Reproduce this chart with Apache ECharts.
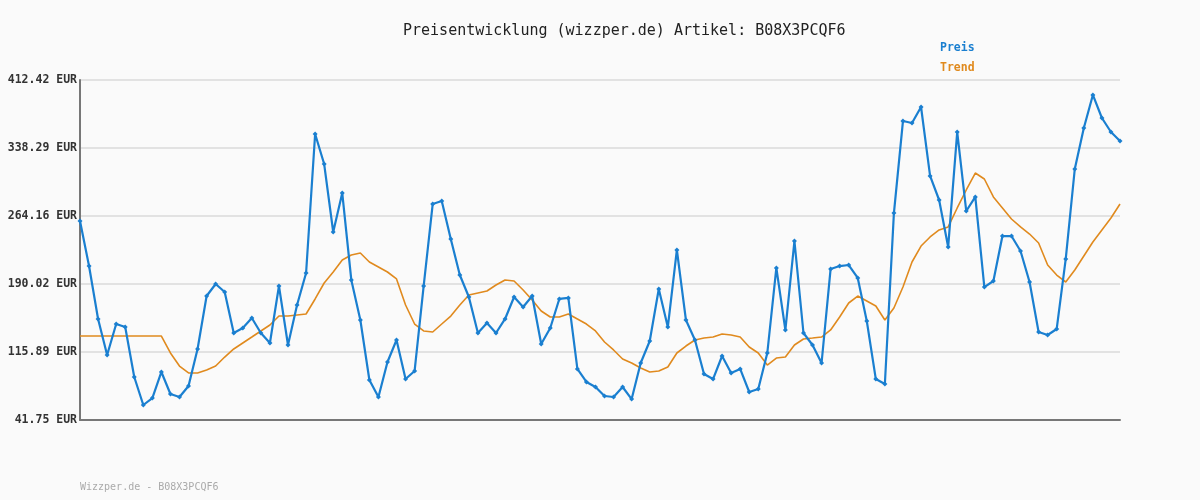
<!DOCTYPE html>
<html><head><meta charset="utf-8">
<script src="https://cdn.jsdelivr.net/npm/echarts@6/dist/echarts.min.js"></script>
<style>html,body{margin:0;background:#fafafa}#c{width:1200px;height:500px}</style>
</head><body><div id="c"></div>
<script>
const preis = [258.7,209.6,151.9,112.6,146.4,143.1,88.6,58.1,65.7,94.1,
70.1,66.8,78.8,119.2,176.9,190.0,181.3,136.6,142.0,152.9,
136.6,125.7,187.8,123.5,167.1,202.0,353.5,320.8,246.7,289.2,
194.4,150.8,85.4,66.8,105.0,129.0,86.4,95.2,187.8,277.2,
280.5,239.1,199.8,175.8,136.6,147.5,136.6,151.9,175.8,164.9,
176.9,124.6,142.0,173.7,174.8,97.4,83.2,77.7,67.9,66.8,
77.7,64.6,103.9,127.9,184.6,143.1,227.1,150.8,129.0,91.9,
86.4,111.5,93.0,97.4,72.3,75.5,114.8,207.5,139.9,236.9,
136.6,123.5,103.9,206.4,209.6,210.7,196.6,149.7,86.4,81.0,
267.4,367.7,365.5,383.0,307.8,281.6,230.4,355.7,269.6,284.9,
186.7,193.3,242.3,242.3,226.0,192.2,137.7,134.4,141.0,217.3,
315.4,360.1,396.1,371.0,355.7,345.9];
const trend = [133.3,133.3,133.3,133.3,133.3,133.3,133.3,133.3,133.3,133.3,
114.8,100.6,93.0,93.0,96.3,100.6,110.4,119.2,125.7,132.2,
138.8,145.3,155.1,155.1,156.2,157.3,173.7,191.1,203.1,216.2,
221.6,223.8,214.0,208.6,203.1,195.5,167.1,146.4,138.8,137.7,
146.4,155.1,167.1,178.0,180.2,182.4,188.9,194.4,193.3,183.5,
172.6,160.6,154.0,154.0,157.3,151.9,146.4,138.8,126.8,118.1,
108.3,103.9,98.4,94.1,95.2,99.5,114.8,122.4,129.0,131.1,
132.2,135.5,134.4,132.2,121.3,114.8,101.7,109.3,110.4,123.5,
130.1,131.1,132.2,139.9,154.0,169.3,176.9,171.5,166.0,150.8,
163.9,186.7,214.0,231.4,241.3,248.9,252.2,272.9,292.5,311.0,
304.5,284.9,272.9,260.9,252.2,244.5,234.7,210.7,199.8,192.2,
205.3,220.5,235.8,248.9,262.0,277.2];
const yTicks = ['41.75','115.89','190.02','264.16','338.29','412.42'];
const cats = preis.map((_, i) => String(i + 1));
const mono = '"DejaVu Sans Mono", "Liberation Mono", monospace';
const chart = echarts.init(document.getElementById('c'));
chart.setOption({
  backgroundColor: '#fafafa',
  animation: false,
  title: { text: 'Preisentwicklung (wizzper.de) Artikel: B08X3PCQF6', left: 398, top: 19,
    textStyle: { fontFamily: mono, fontSize: 15, fontWeight: 'normal', color: '#222' } },
  legend: { orient: 'vertical', left: 935, top: 37, itemGap: 8, itemWidth: 0, itemHeight: 0, icon: 'none',
    data: [{ name: 'Preis', textStyle: { color: '#1a7fd0' } }, { name: 'Trend', textStyle: { color: '#e08a1e' } }],
    textStyle: { fontFamily: mono, fontSize: 11.5, fontWeight: 'bold', padding: [0,0,0,-5] } },
  graphic: [{ type: 'text', left: 80, top: 482, style: { text: 'Wizzper.de - B08X3PCQF6', fill: '#aaa', font: '10px ' + mono } }],
  grid: { left: 80, right: 80, top: 80, bottom: 80 },
  xAxis: { type: 'category', data: cats, boundaryGap: false,
    axisLine: { lineStyle: { color: '#777', width: 2 } }, axisTick: { show: false }, axisLabel: { show: false } },
  yAxis: { type: 'value', min: 41.75, max: 412.42, interval: 74.134,
    axisLine: { show: true, lineStyle: { color: '#777', width: 2 } }, axisTick: { show: false },
    splitLine: { lineStyle: { color: '#e2e2e2', width: 2 } },
    axisLabel: { fontFamily: mono, fontSize: 11.5, fontWeight: 'bold', color: '#333', margin: 3,
      formatter: v => { let b = yTicks[0]; let d = 1e9; for (const t of yTicks) { const dd = Math.abs(+t - v); if (dd < d) { d = dd; b = t; } } return b + ' EUR'; } } },
  series: [
    { name: 'Trend', type: 'line', data: trend, symbol: 'none', lineStyle: { color: '#e08a1e', width: 1.6 }, itemStyle: { color: '#e08a1e' } },
    { name: 'Preis', type: 'line', data: preis, symbol: 'diamond', symbolSize: 5, lineStyle: { color: '#1a7fd0', width: 2.2 }, itemStyle: { color: '#1a7fd0' } }
  ]
});
</script></body></html>
